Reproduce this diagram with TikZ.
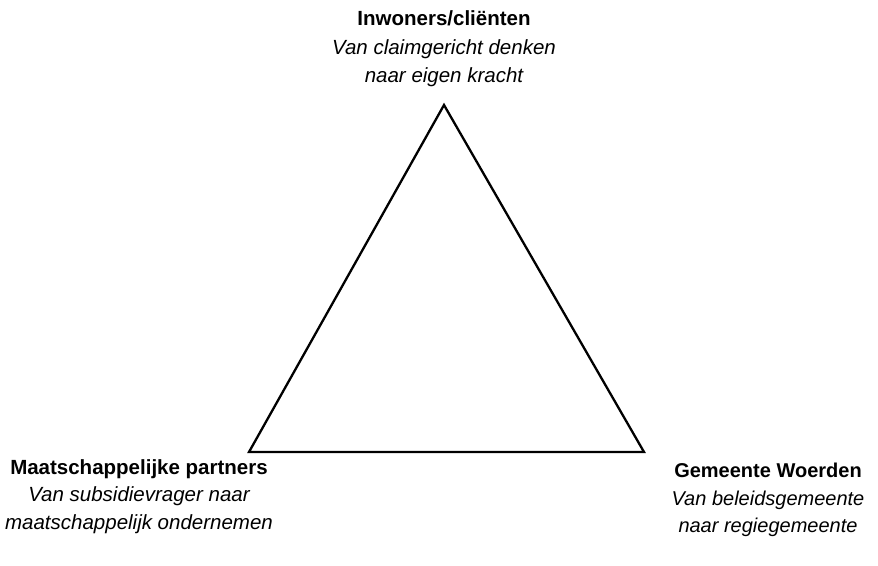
\documentclass[tikz,border=0pt]{standalone}
\usepackage{fontspec}
\setmainfont{Liberation Sans}
\begin{document}
\begin{tikzpicture}[x=1pt,y=-1pt,
  head/.style={anchor=base,inner sep=0pt,font=\fontsize{20.5}{24}\selectfont\bfseries},
  sub/.style={anchor=base,inner sep=0pt,font=\fontsize{20.5}{24}\selectfont\itshape},
  headr/.style={anchor=base,inner sep=0pt,font=\fontsize{20}{24}\selectfont\bfseries},
  subr/.style={anchor=base,inner sep=0pt,font=\fontsize{20}{24}\selectfont\itshape},
  edge/.style={line width=2.3pt,line join=miter}]
\useasboundingbox (0,0) rectangle (878,565);
\coordinate (T) at (444,105);
\coordinate (L) at (249,452);
\coordinate (R) at (644,452);
\draw[edge] (T) -- (L) -- (R) -- cycle;
\node[head] (t1) at (444,25) {Inwoners/cliënten};
\node[sub]  (t2) at (444,54) {Van claimgericht denken};
\node[sub]  (t3) at (444,82) {naar eigen kracht};
\node[head] (l1) at (139,474) {Maatschappelijke partners};
\node[sub]  (l2) at (139,501) {Van subsidievrager naar};
\node[sub]  (l3) at (139,529) {maatschappelijk ondernemen};
\node[headr] (r1) at (768,477) {Gemeente Woerden};
\node[subr]  (r2) at (768,505) {Van beleidsgemeente};
\node[subr]  (r3) at (768,532) {naar regiegemeente};
\end{tikzpicture}
\end{document}
